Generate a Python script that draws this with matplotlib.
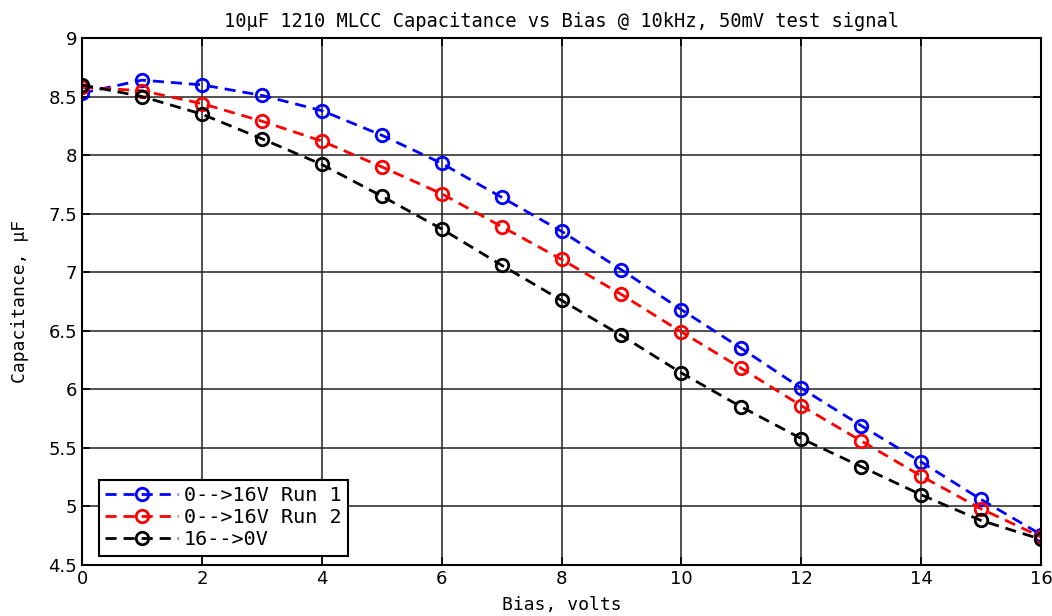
import numpy as np
import matplotlib.pyplot as plt

bias = [0, 1, 2, 3, 4, 5, 6, 7, 8, 9, 10, 11, 12, 13, 14, 15, 16]

run1 = [8.53, 8.64, 8.60, 8.51, 8.38, 8.17, 7.93, 7.64, 7.35, 7.02,
        6.68, 6.35, 6.01, 5.69, 5.38, 5.06, 4.76]
run2 = [8.58, 8.55, 8.44, 8.29, 8.12, 7.90, 7.67, 7.39, 7.11, 6.81,
        6.49, 6.18, 5.86, 5.56, 5.26, 4.98, 4.74]
down = [8.60, 8.50, 8.35, 8.14, 7.92, 7.65, 7.37, 7.06, 6.76, 6.46,
        6.14, 5.85, 5.58, 5.34, 5.10, 4.88, 4.72]

labels = ["0-->16V Run 1", "0-->16V Run 2", "16-->0V"]

mono = "DejaVu Sans Mono"

fig = plt.figure(figsize=(10.52, 6.16), dpi=100)
ax = fig.add_axes([0.078, 0.0828, 0.9115, 0.8555])

for y, c, lab in zip([run1, run2, down], ["#0000ff", "#ff0000", "#000000"], labels):
    ax.plot(bias, y, "--o", color=c, lw=2, ms=9, mfc="none", mew=2,
            dashes=(4, 2.5), label=lab)

ax.set_xlim(0, 16)
ax.set_ylim(4.5, 9)
ax.set_xticks(np.arange(0, 17, 2))
ax.set_yticks(np.arange(4.5, 9.01, 0.5))
ax.set_yticklabels(["4.5", "5", "5.5", "6", "6.5", "7", "7.5", "8", "8.5", "9"])
ax.grid(True, color="#222222", lw=1.1, ls="-")
ax.set_axisbelow(True)
ax.tick_params(direction="in", top=True, right=True, length=6, width=1.2,
               labelsize=13)
for s in ax.spines.values():
    s.set_linewidth(1.5)

ax.set_title("10\u00b5F 1210 MLCC Capacitance vs Bias @ 10kHz, 50mV test signal",
             family=mono, fontsize=13.5, pad=8)
ax.set_xlabel("Bias, volts", family=mono, fontsize=13, labelpad=6)
ax.set_ylabel("Capacitance, \u00b5F", family=mono, fontsize=13, labelpad=14)

leg = ax.legend(loc="lower left", bbox_to_anchor=(0.018, 0.018),
                prop={"family": mono, "size": 14.5}, fancybox=False,
                framealpha=1, edgecolor="black", handlelength=3.6,
                borderpad=0.3, labelspacing=0.15, handletextpad=0.3,
                borderaxespad=0)
leg.get_frame().set_linewidth(1.5)

fig.savefig("out.png", dpi=100)
